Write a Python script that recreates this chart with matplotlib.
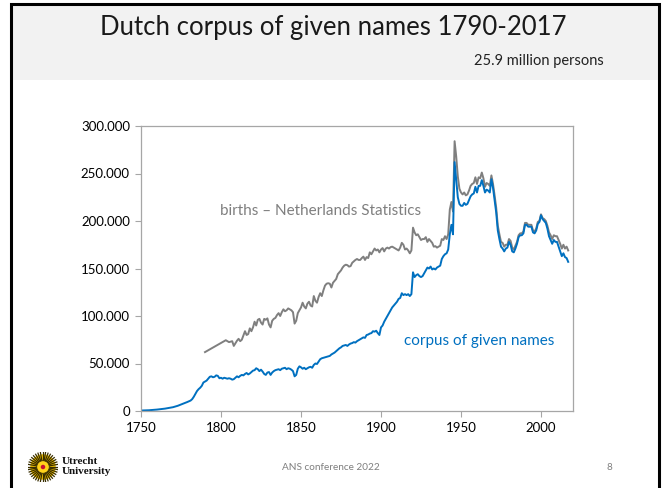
import numpy as np
import matplotlib
matplotlib.use("Agg")
import matplotlib.pyplot as plt
from matplotlib.patches import Rectangle, Circle
from matplotlib.ticker import FuncFormatter

plt.rcParams['font.family'] = ['Lato', 'DejaVu Sans']

# births - Netherlands Statistics
birth_years = [1790, 1803, 1805, 1807, 1808, 1810, 1811, 1812, 1813, 1815, 1816, 1817, 1818, 1819,
               1820, 1821, 1822, 1823, 1824, 1825, 1826, 1827, 1828, 1829, 1830, 1831, 1832, 1833,
               1834, 1835, 1836, 1837, 1838, 1839, 1840, 1841, 1842, 1843, 1844, 1845, 1846, 1847,
               1848, 1849, 1850, 1851, 1852, 1853, 1854, 1855, 1856, 1857, 1858, 1859, 1860, 1861,
               1862, 1863, 1864, 1865, 1866, 1867, 1868, 1869, 1870, 1871, 1872, 1873, 1874, 1875,
               1876, 1877, 1878, 1879, 1880, 1881, 1882, 1883, 1884, 1885, 1886, 1887, 1888, 1889,
               1890, 1891, 1892, 1893, 1894, 1895, 1896, 1897, 1898, 1899, 1900, 1901, 1902, 1903,
               1904, 1905, 1906, 1907, 1908, 1909, 1910, 1911, 1912, 1913, 1914, 1915, 1916, 1917,
               1918, 1919, 1920, 1921, 1922, 1923, 1924, 1925, 1926, 1927, 1928, 1929, 1930, 1931,
               1932, 1933, 1934, 1935, 1936, 1937, 1938, 1939, 1940, 1941, 1942, 1943, 1944, 1945,
               1946, 1947, 1948, 1949, 1950, 1951, 1952, 1953, 1954, 1955, 1956, 1957, 1958, 1959,
               1960, 1961, 1962, 1963, 1964, 1965, 1966, 1967, 1968, 1969, 1970, 1971, 1972, 1973,
               1974, 1975, 1976, 1977, 1978, 1979, 1980, 1981, 1982, 1983, 1984, 1985, 1986, 1987,
               1988, 1989, 1990, 1991, 1992, 1993, 1994, 1995, 1996, 1997, 1998, 1999, 2000, 2001,
               2002, 2003, 2004, 2005, 2006, 2007, 2008, 2009, 2010, 2011, 2012, 2013, 2014, 2015,
               2016, 2017]
births = [62000, 74500, 72500, 73500, 68500, 74000, 76000, 73500, 75000, 84000, 80000, 81000, 87000, 84000,
          88000, 94000, 90000, 96000, 97000, 93000, 91000, 97000, 96000, 97500, 91000, 88000, 95000, 97000,
          98000, 101000, 103000, 100000, 104000, 107000, 105000, 106000, 108000, 107000, 106000, 104000, 92000, 95000,
          103000, 106000, 109000, 114000, 110000, 108000, 113000, 115000, 111000, 110000, 121000, 116000, 114000, 120000,
          124000, 121000, 127000, 132000, 134000, 134500, 134000, 130000, 135000, 137000, 139000, 144000, 146000, 148000,
          151000, 153000, 154000, 153500, 152000, 152500, 156000, 157500, 159000, 160000, 159000, 159000, 161000, 162500,
          159000, 162000, 161000, 167000, 165000, 168000, 171000, 169000, 170000, 167000, 170000, 171500, 168000, 171000,
          172000, 171000, 172500, 173000, 172000, 171000, 170000, 169000, 172000, 177000, 175000, 170000, 171000, 169000,
          166000, 169000, 193000, 188000, 185000, 186000, 183000, 180000, 181000, 181000, 183000, 178000, 181000, 179000,
          177000, 173000, 173500, 172000, 173000, 174000, 181000, 180000, 184000, 181000, 186000, 212000, 220000, 210000,
          284000, 268000, 247000, 234000, 230000, 228000, 230000, 227000, 228000, 232000, 237000, 239000, 240000, 246000,
          239000, 246000, 245000, 251000, 245000, 236000, 240000, 239000, 237000, 248000, 239000, 227000, 214000, 195000,
          186000, 178000, 177000, 173000, 175000, 175000, 181000, 179000, 172000, 170000, 174000, 178000, 185000, 187000,
          187000, 189000, 198000, 198000, 196000, 196000, 196000, 190000, 189000, 192000, 199000, 200000, 207000, 203000,
          202000, 200000, 195000, 188000, 185000, 181000, 185000, 184000, 184000, 180000, 176000, 171000, 175000, 171000,
          173000, 169000]

# corpus of given names
corpus_years = [1750, 1755, 1760, 1765, 1770, 1773, 1776, 1779, 1781, 1782, 1783, 1784, 1785, 1786,
                1787, 1788, 1789, 1790, 1791, 1792, 1793, 1794, 1795, 1796, 1797, 1798, 1799, 1800,
                1801, 1802, 1803, 1804, 1805, 1806, 1807, 1808, 1809, 1810, 1811, 1812, 1813, 1814,
                1815, 1816, 1817, 1818, 1819, 1820, 1821, 1822, 1823, 1824, 1825, 1826, 1827, 1828,
                1829, 1830, 1831, 1832, 1833, 1834, 1835, 1836, 1837, 1838, 1839, 1840, 1841, 1842,
                1843, 1844, 1845, 1846, 1847, 1848, 1849, 1850, 1851, 1852, 1853, 1854, 1855, 1856,
                1857, 1858, 1859, 1860, 1861, 1862, 1863, 1864, 1865, 1866, 1867, 1868, 1869, 1870,
                1871, 1872, 1873, 1874, 1875, 1876, 1877, 1878, 1879, 1880, 1881, 1882, 1883, 1884,
                1885, 1886, 1887, 1888, 1889, 1890, 1891, 1892, 1893, 1894, 1895, 1896, 1897, 1898,
                1899, 1900, 1901, 1902, 1903, 1904, 1905, 1906, 1907, 1908, 1909, 1910, 1911, 1912,
                1913, 1914, 1915, 1916, 1917, 1918, 1919, 1920, 1921, 1922, 1923, 1924, 1925, 1926,
                1927, 1928, 1929, 1930, 1931, 1932, 1933, 1934, 1935, 1936, 1937, 1938, 1939, 1940,
                1941, 1942, 1943, 1944, 1945, 1946, 1947, 1948, 1949, 1950, 1951, 1952, 1953, 1954,
                1955, 1956, 1957, 1958, 1959, 1960, 1961, 1962, 1963, 1964, 1965, 1966, 1967, 1968,
                1969, 1970, 1971, 1972, 1973, 1974, 1975, 1976, 1977, 1978, 1979, 1980, 1981, 1982,
                1983, 1984, 1985, 1986, 1987, 1988, 1989, 1990, 1991, 1992, 1993, 1994, 1995, 1996,
                1997, 1998, 1999, 2000, 2001, 2002, 2003, 2004, 2005, 2006, 2007, 2008, 2009, 2010,
                2011, 2012, 2013, 2014, 2015, 2016, 2017]
corpus = [500, 800, 1500, 2500, 4000, 5500, 7500, 9500, 11000, 12500, 15000, 18000, 21000, 23000,
          24500, 26500, 30000, 31000, 32000, 34000, 36000, 36500, 35500, 36000, 37500, 37000, 34500, 35000,
          34000, 35000, 34500, 34000, 34500, 34000, 33000, 33500, 35000, 36500, 35500, 37000, 38000, 37500,
          39000, 40000, 38500, 39500, 41000, 42500, 43000, 45000, 44000, 42000, 43500, 41500, 39000, 38000,
          40500, 41000, 38000, 40500, 42000, 43000, 43500, 44000, 43000, 44500, 45000, 45500, 44000, 45000,
          44500, 43500, 42000, 36500, 38000, 44500, 47000, 46000, 44500, 45500, 44000, 45000, 46000, 46500,
          45500, 48500, 50000, 49500, 52000, 54500, 55500, 56000, 56500, 57000, 57500, 58000, 59500, 60500,
          61500, 63000, 64500, 66000, 67000, 68500, 69000, 69500, 68500, 70000, 71000, 71500, 72500, 72000,
          73500, 74500, 75500, 76500, 77500, 77000, 80000, 80500, 81500, 82000, 84000, 83500, 84500, 82000,
          80000, 88000, 90000, 94000, 97000, 100000, 103000, 106000, 109000, 111000, 113000, 115000, 118000, 119000,
          124000, 122000, 123000, 122000, 123000, 121000, 123000, 146000, 141000, 143000, 144000, 142000, 141000, 142000,
          145000, 148000, 151000, 150000, 152000, 149000, 150000, 149000, 151000, 152000, 153000, 160000, 163000, 165000,
          166000, 170000, 186000, 196000, 186000, 262000, 243000, 225000, 218000, 216000, 216000, 219000, 217000, 218000,
          222000, 226000, 228000, 229000, 236000, 230000, 237000, 237000, 243000, 237000, 230000, 233000, 232000, 230000,
          244000, 235000, 222000, 209000, 190000, 181000, 173000, 171000, 168000, 171000, 172000, 178000, 175000, 168000,
          167000, 171000, 176000, 183000, 185000, 185000, 187000, 196000, 196000, 194000, 194000, 194000, 188000, 187000,
          190000, 197000, 199000, 206000, 202000, 200000, 198000, 192000, 184000, 180000, 176000, 180000, 178000, 178000,
          173000, 168000, 163000, 166000, 162000, 161000, 157000]

x_ticks = [1750, 1800, 1850, 1900, 1950, 2000]
y_ticks = [0, 50000, 100000, 150000, 200000, 250000, 300000]

BLUE = '#0070c0'
GRAY = '#7f7f7f'

fig = plt.figure(figsize=(6.67, 4.88), dpi=100)

# slide frame and header band (kept behind the axes)
fig.patches.append(Rectangle((12 / 667, 1 - 80 / 488), 646 / 667, 75 / 488, transform=fig.transFigure,
                             facecolor='#f2f2f2', edgecolor='none', zorder=-5))
fig.patches.append(Rectangle((11 / 667, -0.05), 648 / 667, 1.05 - 4 / 488, transform=fig.transFigure,
                             facecolor='none', edgecolor='black', linewidth=2.2, zorder=-4))

fig.text(0.5, 1 - 27 / 488, 'Dutch corpus of given names 1790-2017', ha='center', va='center',
         fontsize=18.5, color='#1a1a1a')
fig.text(604 / 667, 1 - 61 / 488, '25.9 million persons', ha='right', va='center',
         fontsize=10.5, color='#222222')

ax = fig.add_axes([141 / 667, 77 / 488, 432 / 667, 285 / 488])
ax.plot(birth_years, births, color=GRAY, lw=1.4, solid_joinstyle='round')
ax.plot(corpus_years, corpus, color=BLUE, lw=1.4, solid_joinstyle='round')

ax.set_xlim(1750, 2020)
ax.set_ylim(0, 300000)
ax.set_xticks(x_ticks)
ax.set_yticks(y_ticks)
ax.yaxis.set_major_formatter(FuncFormatter(lambda v, p: f'{int(v):,}'.replace(',', '.')))
for s in ax.spines.values():
    s.set_color('#a6a6a6')
    s.set_linewidth(0.9)
ax.tick_params(length=4, width=0.8, color='#a6a6a6', labelsize=9.5, labelcolor='black', pad=4)

ax.text(1799.4, 210500, 'births \u2013 Netherlands Statistics', color=GRAY, fontsize=11, va='center')
ax.text(1914.4, 73700, 'corpus of given names', color=BLUE, fontsize=11, va='center')

# footer
fig.text(331 / 667, 1 - 468 / 488, 'ANS conference 2022', ha='center', va='center', fontsize=7.2,
         color='#7f7f7f')
fig.text(609 / 667, 1 - 468 / 488, '8', ha='center', va='center', fontsize=7.2, color='#7f7f7f')

# Utrecht University logo
lax = fig.add_axes([28 / 667, 1 - 482 / 488, 30 / 667, 30 / 488])
lax.set_xlim(-1, 1)
lax.set_ylim(-1, 1)
lax.set_aspect('equal')
lax.axis('off')
ang = np.linspace(0, 2 * np.pi, 36, endpoint=False)
lax.add_patch(Circle((0, 0), 0.85, facecolor='#f2c200', edgecolor='none', zorder=1))
for a in ang:
    lax.plot([0.45 * np.cos(a), 0.98 * np.cos(a)], [0.45 * np.sin(a), 0.98 * np.sin(a)],
             color='#3a2f00', lw=0.9, zorder=2)
lax.add_patch(Circle((0, 0), 0.42, facecolor='#ffd21a', edgecolor='#3a2f00', lw=0.6, zorder=3))
lax.add_patch(Circle((0, 0), 0.15, facecolor='#c8102e', edgecolor='none', zorder=4))
fig.text(62 / 667, 1 - 461 / 488, 'Utrecht', family=['Liberation Serif', 'DejaVu Serif'],
         fontsize=8, fontweight='bold', va='center', color='#111111')
fig.text(62 / 667, 1 - 472 / 488, 'University', family=['Liberation Serif', 'DejaVu Serif'],
         fontsize=8, fontweight='bold', va='center', color='#111111')

fig.savefig('out.png', dpi=100)
